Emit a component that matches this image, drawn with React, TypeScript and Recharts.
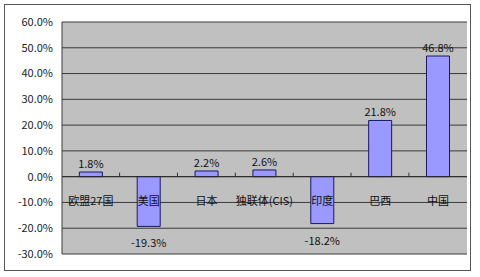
import { BarChart, Bar, XAxis, YAxis, CartesianGrid, ReferenceLine, LabelList } from 'recharts';

const categories = ['欧盟27国', '美国', '日本', '独联体(CIS)', '印度', '巴西', '中国'];
const growth = [1.8, -19.3, 2.2, 2.6, -18.2, 21.8, 46.8];
const yTicks = [-30, -20, -10, 0, 10, 20, 30, 40, 50, 60];

const data = categories.map((name, i) => ({ name, value: growth[i] }));

const FONT = '"Noto Sans CJK SC", "DejaVu Sans", sans-serif';
const GAP = 0.3; // barCategoryGap

const renderValue = (props: any) => {
  const { x, y, width, height, value } = props;
  const top = Math.min(y, y + height);
  const bottom = Math.max(y, y + height);
  const cx = x + width / 2;
  const ty = value >= 0 ? top - 9 : bottom + 16;
  return (
    <text x={cx} y={ty} textAnchor="middle" dominantBaseline="central" fontSize={11} fill="#111" fontFamily={FONT}>
      {`${value.toFixed(1)}%`}
    </text>
  );
};

const renderCategory = (props: any) => {
  const { x, y, width, height, value, index } = props;
  const zeroY = value >= 0 ? Math.max(y, y + height) : Math.min(y, y + height);
  const cx = x + width / 2;
  const band = width / (1 - 2 * GAP);
  const right = cx + band / 2;
  return (
    <g>
      {index < categories.length - 1 && (
        <line x1={right} x2={right} y1={zeroY - 4} y2={zeroY} stroke="#333" strokeWidth={1} />
      )}
      <text x={cx} y={zeroY + 23} textAnchor="middle" dominantBaseline="central" fontSize={11} fill="#111" fontFamily={FONT}>
        {categories[index]}
      </text>
    </g>
  );
};

export default function App() {
  return (
    <div style={{ position: 'absolute', left: 0, top: 0, width: 480, height: 277, background: '#fff' }}>
      <div
        style={{
          position: 'absolute',
          left: 4,
          top: 4,
          width: 467,
          height: 267,
          border: '1px solid #555',
          boxSizing: 'border-box',
        }}
      />
      <BarChart
        width={480}
        height={277}
        data={data}
        margin={{ top: 22, right: 13, bottom: 23, left: 0 }}
        barCategoryGap={`${GAP * 100}%`}
        style={{ position: 'absolute', left: 0, top: 0 }}
      >
        <CartesianGrid vertical={false} fill="#c0c0c0" stroke="#3a3a3a" strokeOpacity={1} />
        <XAxis dataKey="name" hide />
        <YAxis
          width={62}
          domain={[-30, 60]}
          ticks={yTicks}
          interval={0}
          tickFormatter={(v: number) => `${v.toFixed(1)}%`}
          tick={{ fontSize: 11, fill: '#222', fontFamily: FONT }}
          tickLine={false}
          tickSize={0}
          tickMargin={9}
          axisLine={{ stroke: '#3a3a3a' }}
        />
        <ReferenceLine y={0} stroke="#2a2a2a" strokeWidth={1} />
        <Bar dataKey="value" fill="#9999ff" stroke="#1a1a60" strokeWidth={1} isAnimationActive={false}>
          <LabelList dataKey="value" content={renderValue} />
          <LabelList dataKey="value" content={renderCategory} />
        </Bar>
      </BarChart>
    </div>
  );
}
